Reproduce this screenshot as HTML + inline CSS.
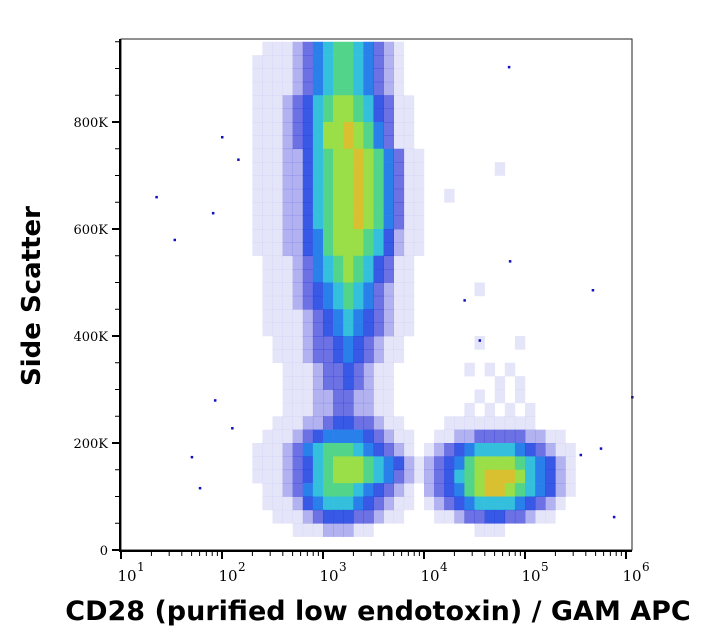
<!DOCTYPE html>
<html><head><meta charset="utf-8"><style>
html,body{margin:0;padding:0;background:#fff;}
svg{display:block;font-family:"DejaVu Serif","Liberation Serif",serif;}
</style></head><body>
<svg id="chart" width="714" height="641" viewBox="0 0 714 641" xmlns="http://www.w3.org/2000/svg">
<rect width="714" height="641" fill="#fff"/>
<g id="cells"></g>
<g id="dots"></g>
<rect x="121" y="39" width="511" height="511" fill="none" stroke="#222" stroke-width="1"/>
<g id="axes"></g>
<text x="40" y="296" transform="rotate(-90 40 296)" text-anchor="middle" font-family="DejaVu Sans, sans-serif" font-weight="bold" font-size="26">Side Scatter</text>
<text x="378" y="620" text-anchor="middle" font-family="DejaVu Sans, sans-serif" font-weight="bold" font-size="27">CD28 (purified low endotoxin) / GAM APC</text>
</svg>
<script>
// grid: columns log10 from 2.0 step 0.1 (36 cols); rows of 25K from 950K down
const colStartLog = 2.0;
const colStepLog = 0.1;
const rowTopK = 950;
const rowStepK = 25;
const densityRows = [
"000011123567765321000000000000000000",
"000111123567765321000000000000000000",
"000111123567765321000000000000000000",
"000111123567765321000000000000000000",
"000111234678876431100000000000000000",
"000111234678876431100000000000000000",
"000111234688987531100000000000000000",
"000111234688987531100000000000000000",
"000111224678898753110000000000000000",
"000111224678898753110000000100000000",
"000111224678898753110000000000000000",
"000111224678898753110010000000000000",
"000111224678898753110000000000000000",
"000111224678898753110000000000000000",
"000111224578887642110000000000000000",
"000111224578887642110000000000000000",
"000011123567876431100000000000000000",
"000011123567876431100000000000000000",
"000011123456765321100000010000000000",
"000011123456765321100000000000000000",
"000011112345654321100000000000000000",
"000011112345654321100000000000000000",
"000001112334543211000000010001000000",
"000001112334543211000000000000000000",
"000000111233432110000000101010000000",
"000000111233432110000000000101000000",
"000000111223322110000000010101000000",
"000000111223322110000000101010100000",
"000001112234433211000011111111100000",
"000011123455554321100112233333221100",
"000111235677765432101234566665432110",
"000111234678887654212345788887654210",
"000111234678887653212346789998654210",
"000011235677765432102345789987654210",
"000011124566654321101234566665432100",
"000001112344433211000112334433211000",
"000000011122211000000000011100000000",
"000000000000000000000000000000000000"
];
const outlierLog = [1.35,1.53,1.91,2.0,2.16,1.93,1.70,1.78,2.1,4.84,5.67,6.06,5.55,5.75,5.88,4.85,4.4,4.55];
const outlierK   = [660,580,630,772,730,280,174,116,228,903,486,286,178,190,62,540,467,392];
const yTicksK = [0,200,400,600,800];
const yTickLabels = ["0","200K","400K","600K","800K"];
const xDecades = [1,2,3,4,5,6];

const NS="http://www.w3.org/2000/svg";
const X0=121, DEC=101, Y0=550, PXK=0.535;
function xs(l){return X0+(l-1)*DEC;}
function ys(k){return Y0-k*PXK;}
const palette=["none","rgba(0,0,200,0.10)","rgba(0,0,210,0.30)","rgba(10,20,210,0.6)","rgba(20,60,225,0.85)","#2a80ea","#34c0dc","#52d48a","#9ade48","#d8c030"];
function mk(tag,attrs,parent){const e=document.createElementNS(NS,tag);for(const k in attrs)e.setAttribute(k,attrs[k]);parent.appendChild(e);return e;}

const cells=document.getElementById('cells');
densityRows.forEach((row,ri)=>{
  for(let ci=0;ci<row.length;ci++){
    const v=+row[ci]; if(!v) continue;
    const l0=colStartLog+ci*colStepLog, kTop=rowTopK-ri*rowStepK;
    const x=xs(l0), y=ys(kTop);
    const r=mk('rect',{x:x.toFixed(2),y:y.toFixed(2),width:(xs(l0+colStepLog)-x+0.3).toFixed(2),height:(ys(kTop-rowStepK)-y+0.3).toFixed(2),fill:palette[v]},cells);
    
    
  }
});
const dots=document.getElementById('dots');
outlierLog.forEach((l,i)=>{
  const d=mk('rect',{x:xs(l)-1,y:ys(outlierK[i])-1,width:2.5,height:2.5,fill:'#1010c0'},dots);
  
  
});
const ax=document.getElementById('axes');
const xl=mk('line',{x1:120,y1:551,x2:632,y2:551,stroke:'#000','stroke-width':2},ax);


const yl=mk('line',{x1:120,y1:39,x2:120,y2:552,stroke:'#000','stroke-width':2},ax);


for(let k=0;k<=950;k+=50){
  const major=k%200===0;
  const t=mk('line',{x1:major?112:115,y1:ys(k),x2:120,y2:ys(k),stroke:'#000','stroke-width':major?2:1},ax);
  
  
}
yTicksK.forEach((k,i)=>{
  const t=mk('text',{x:108,y:ys(k)+5,'text-anchor':'end','font-size':13},ax);
  t.textContent=yTickLabels[i];
  
  
});
xDecades.forEach(d=>{
  const t=mk('line',{x1:xs(d),y1:551,x2:xs(d),y2:559,stroke:'#000','stroke-width':2},ax);
  
  
  if(d<6){for(let m=2;m<10;m++){const mt=mk('line',{x1:xs(d+Math.log10(m)),y1:551,x2:xs(d+Math.log10(m)),y2:556,stroke:'#000','stroke-width':1},ax);
    
    }}
  const lb=mk('text',{x:xs(d)+6,y:581,'font-size':15,'text-anchor':'middle'},ax);
  lb.textContent='10';
  
  
  const sp=mk('text',{x:xs(d)+16,y:571,'font-size':12},ax);
  sp.textContent=String(d);
  
  
});
</script>
</body></html>
